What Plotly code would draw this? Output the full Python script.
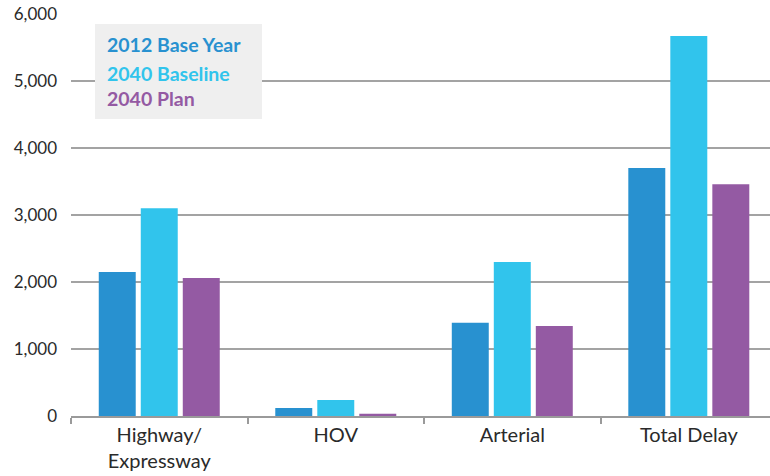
import plotly.graph_objects as go

categories = ["Highway/<br>Expressway", "HOV", "Arterial", "Total Delay"]
base_2012 = [2150, 120, 1390, 3700]
baseline_2040 = [3100, 240, 2300, 5670]
plan_2040 = [2060, 35, 1345, 3460]
series_names = ["2012 Base Year", "2040 Baseline", "2040 Plan"]
colors = ["#2891d0", "#31c4ec", "#945aa3"]
y_ticks = [0, 1000, 2000, 3000, 4000, 5000, 6000]

FONT = "Lato, Roboto, sans-serif"

fig = go.Figure()
for name, vals, col in zip(series_names, [base_2012, baseline_2040, plan_2040], colors):
    fig.add_trace(go.Bar(x=categories, y=vals, name=name, marker_color=col,
                         marker_line_width=0, showlegend=False))

fig.update_layout(
    width=770, height=476,
    margin=dict(l=71, r=0, t=14, b=60, autoexpand=False),
    paper_bgcolor="white", plot_bgcolor="white",
    barmode="group", bargap=0.286, bargroupgap=0.12,
    font=dict(family=FONT, color="#2a2a2a"),
)
fig.update_xaxes(
    range=[-0.5, 3.46], tickson="boundaries", ticks="outside", ticklen=6,
    tickcolor="#9a9a9a", tickwidth=2, showline=True, linecolor="#9a9a9a",
    linewidth=2, showgrid=False, tickfont=dict(size=20, color="#2a2a2a"),
)
fig.update_yaxes(
    range=[0, 6000], tickvals=y_ticks, tickformat=",d", showgrid=True,
    gridcolor="#a3a3a3", gridwidth=1.6, zeroline=False, showline=False,
    ticks="", ticklabelstandoff=13, tickfont=dict(size=17, color="#2a2a2a"),
)

def px_x(px):
    return (px - 71) / 699

def px_y(py):
    return (416 - py) / 402

# legend box
fig.add_shape(type="rect", xref="paper", yref="paper",
              x0=px_x(95), x1=px_x(262), y0=px_y(119), y1=px_y(24),
              fillcolor="#efefef", line_width=0, layer="above")
legend_y = [44, 73, 99]
for name, col, py in zip(series_names, colors, legend_y):
    fig.add_annotation(xref="paper", yref="paper", x=px_x(105),
                       y=px_y(py), xanchor="left", yanchor="middle",
                       text="<b>" + name + "</b>", showarrow=False,
                       font=dict(size=19.5, color=col, family=FONT))

fig.write_html("out.html", config={"displayModeBar": False},
               post_script="document.body.style.margin='0px';")
